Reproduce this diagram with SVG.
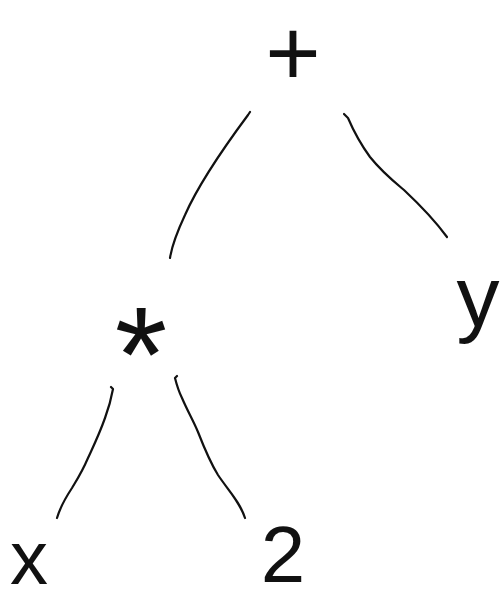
<svg xmlns="http://www.w3.org/2000/svg" width="503" height="602" viewBox="0 0 503 602">
<style>
.bg{fill:#ffffff}
.edge{fill:none;stroke:#111111;stroke-width:2.2;stroke-linecap:round;stroke-linejoin:round}
.sym{font-family:"Liberation Sans",Arial,sans-serif;fill:#111111;text-anchor:middle}
</style>
<rect class="bg" x="0" y="0" width="503" height="602"/>
<g id="connectors">
<path class="edge" d="M250,112 L248,115 C222,150 196,190 185,215 C178,230 172,245 170,258"/>
<path class="edge" d="M344,114 L348,118 C354,132 362,146 370,157 C382,172 392,180 404,190 C420,205 436,222 447,237"/>
<path class="edge" d="M111,387 L113,389 C111,400 108,410 105,418 C99,435 93,447 88,458 C82,472 78,478 72,488 C64,500 60,508 57,518"/>
<path class="edge" d="M177,376 L175,378 C177,386 179,392 182,398 C188,412 193,420 198,432 C205,450 210,462 218,475 C228,490 240,502 245,518"/>
</g>
<g id="node-plus"><text class="sym" x="293" y="85" font-size="95">+</text></g>
<g id="node-times"><text class="sym" x="141" y="401" font-size="135">*</text></g>
<g id="node-y"><text class="sym" x="478" y="326" font-size="86">y</text></g>
<g id="node-x"><text class="sym" x="29" y="584" font-size="76">x</text></g>
<g id="node-2"><text class="sym" x="283" y="582" font-size="80">2</text></g>
</svg>
